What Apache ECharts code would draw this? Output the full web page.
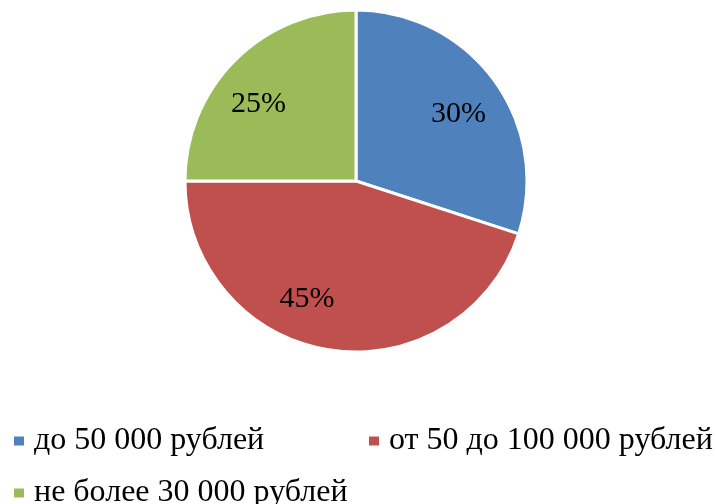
<!DOCTYPE html>
<html><head><meta charset="utf-8">
<script src="https://cdn.jsdelivr.net/npm/echarts@6/dist/echarts.min.js"></script>
<style>html,body{margin:0;padding:0;background:#fff}#c{width:716px;height:504px}</style>
</head><body><div id="c"></div>
<script>
const categories = ['до 50 000 рублей', 'от 50 до 100 000 рублей', 'не более 30 000 рублей'];
const values = [30, 45, 25];
const colors = ['#4F81BD', '#C0504D', '#9BBB59'];

const font = '"Liberation Serif", "Times New Roman", serif';
const chart = echarts.init(document.getElementById('c'));
const baseData = categories.map((n, i) => ({ name: n, value: values[i], itemStyle: { color: colors[i] } }));
const labelOffsets = [[-1, 8], [-29, -8], [-7, 14]];
const labelData = categories.map((n, i) => ({ name: n, value: values[i], label: { offset: labelOffsets[i] } }));

function legendFor(i, left, top) {
  return {
    data: [categories[i]], left: left, top: top, orient: 'horizontal',
    icon: 'rect', itemWidth: 12, itemHeight: 11, itemGap: 0,
    selectedMode: false,
    textStyle: { fontFamily: font, fontSize: 32, color: '#000', padding: [0, 0, 0, 4] }
  };
}

chart.setOption({
  animation: false,
  color: colors,
  legend: [legendFor(0, 7, 420), legendFor(1, 362, 420), legendFor(2, 7, 472)],
  series: [
    {
      type: 'pie', center: [356, 181], radius: [0, 171],
      startAngle: 90, clockwise: true, silent: true,
      itemStyle: { borderColor: '#fff', borderWidth: 3 },
      label: { show: false }, labelLine: { show: false },
      data: baseData
    },
    {
      type: 'pie', center: [356, 181], radius: [0, 250],
      startAngle: 90, clockwise: true, silent: true,
      itemStyle: { color: 'rgba(0,0,0,0)' },
      label: { show: true, position: 'inside', formatter: '{c}%', fontFamily: font, fontSize: 30, color: '#000' },
      labelLine: { show: false },
      data: labelData
    }
  ]
});
</script></body></html>
